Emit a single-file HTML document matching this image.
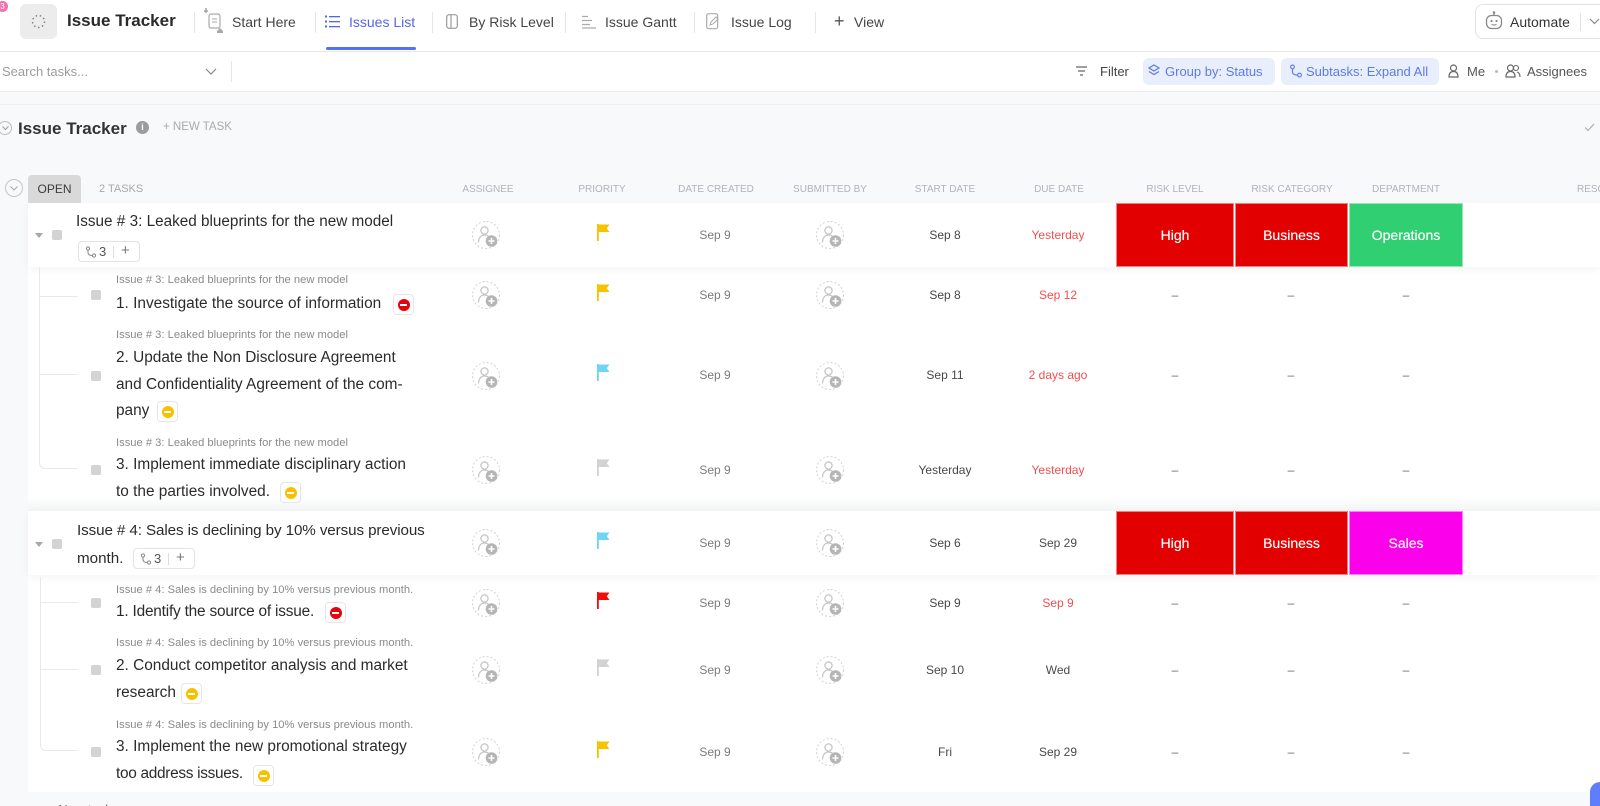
<!DOCTYPE html>
<html><head><meta charset="utf-8">
<style>
*{margin:0;padding:0;box-sizing:border-box}
html,body{width:1600px;height:806px;overflow:hidden;background:#f8f9fb;font-family:"Liberation Sans",sans-serif;color:#333;position:relative}
.a{position:absolute;white-space:nowrap}
.c{position:absolute;white-space:nowrap;text-align:center;width:120px;line-height:16px;font-size:12px}
.tab{position:absolute;white-space:nowrap;font-size:14px;line-height:16px;top:14px;color:#454545}
.sep{position:absolute;top:12px;width:1px;height:21px;background:#e6e6e6}
.hd{position:absolute;white-space:nowrap;text-align:center;width:140px;font-size:10px;line-height:12px;top:184px;color:#afb3bb}
.lbl{position:absolute;white-space:nowrap;font-size:11.2px;line-height:13px;color:#8a8a8a;left:116px}
.tt{position:absolute;white-space:nowrap;font-size:15.4px;line-height:26.5px;color:#2b2b2b;left:116px}
.cb{position:absolute;width:10px;height:10px;background:#d3d3d3;border-radius:2px}
.av{position:absolute;width:30px;height:30px}
.fl{position:absolute;width:13px;height:17px}
.dc{color:#7b7b7b}
.sd{color:#474747}
.rd{color:#f24e4e}
.dk{color:#4a4a4a}
.ds{color:#6a6a6a}
.box{position:absolute;color:#fff;font-size:14px;text-align:center;border:1px solid rgba(255,255,255,.5);text-shadow:0 0 0.4px #fff}
.blk{position:absolute;width:21px;height:21px;border:1px solid #e6e6e6;border-radius:4px;background:#fff}
.blk i{position:absolute;left:3.5px;top:3.5px;width:12px;height:12px;border-radius:50%}
.blk i:after{content:"";position:absolute;left:2.5px;top:5px;width:7px;height:2px;background:#fff}
.chip{position:absolute;height:21px;border:1px solid #e3e3e3;border-radius:4px;background:#fff;font-size:13px;color:#555}
.tri{position:absolute;width:0;height:0;border-left:4px solid transparent;border-right:4px solid transparent;border-top:5px solid #a8a8a8}
</style></head><body>
<svg width="0" height="0" style="position:absolute">
<defs>
<symbol id="av" viewBox="0 0 30 30"><circle cx="15" cy="15" r="13.5" fill="none" stroke="#d2d2d2" stroke-width="1" stroke-dasharray="2 2"/><circle cx="13.5" cy="10.5" r="3.6" fill="none" stroke="#c6c6c6" stroke-width="1.3"/><path d="M7.5 22.5c0-5 2.8-7.5 6-7.5 1.8 0 3.2.6 4.2 1.6" fill="none" stroke="#c6c6c6" stroke-width="1.3"/><circle cx="20.5" cy="21" r="5.8" fill="#b5b5b5"/><path d="M20.5 18v6M17.5 21h6" stroke="#fff" stroke-width="1.6"/></symbol>
<symbol id="fl" viewBox="0 0 13 17"><rect x="0" y="0" width="1.8" height="17"/><path d="M1.5 0.5H12.5L9.8 4.2 12.5 8H1.5Z"/></symbol>
<symbol id="br" viewBox="0 0 12 12"><circle cx="3" cy="2.5" r="1.6" fill="none" stroke="#888" stroke-width="1"/><circle cx="9" cy="9.5" r="1.6" fill="none" stroke="#888" stroke-width="1"/><path d="M3 4.1v2.4c0 2 1.5 3 4.4 3" fill="none" stroke="#888" stroke-width="1"/></symbol>
</defs></svg>

<!-- top bar -->
<div class="a" style="left:0;top:0;width:1600px;height:52px;background:#fff;border-bottom:1px solid #e8e8e8"></div>
<div class="a" style="left:0;top:52px;width:1600px;height:40px;background:#fff;border-bottom:1px solid #ebebeb"></div>
<div class="a" style="left:-3px;top:1px;width:11px;height:11px;border-radius:50%;background:#f472a8;color:#fff;font-size:8px;line-height:11px;text-align:center">3</div>
<div class="a" style="left:20px;top:4px;width:37px;height:35px;background:#ececec;border-radius:6px"></div>
<svg class="a" style="left:31px;top:14px" width="15" height="15" viewBox="0 0 15 15"><circle cx="7.5" cy="7.5" r="6" fill="none" stroke="#777" stroke-width="1.4" stroke-dasharray="1.4 2.8"/></svg>
<div class="a" style="left:67px;top:11px;font-size:17px;font-weight:bold;line-height:20px;color:#2a2a2a">Issue Tracker</div>
<div class="sep" style="left:194px"></div>
<svg class="a" style="left:203px;top:7px" width="22" height="26" viewBox="0 0 22 26"><path d="M3 1v5M1 4h4" stroke="#999" stroke-width="1.3"/><rect x="6" y="7" width="11" height="14" rx="2" fill="none" stroke="#aaa" stroke-width="1.2"/><path d="M9 12h5M9 15h5" stroke="#aaa" stroke-width="1"/><path d="M14 24l3-3 3 3v2h-6z" fill="#aaa"/></svg>
<div class="tab" style="left:232px">Start Here</div>
<div class="sep" style="left:315px"></div>
<svg class="a" style="left:325px;top:15px" width="15" height="13" viewBox="0 0 15 13"><g fill="#5466e6"><rect x="0" y="0.5" width="2" height="2"/><rect x="0" y="5.5" width="2" height="2"/><rect x="0" y="10.5" width="2" height="2"/><rect x="4" y="1" width="11" height="1.3"/><rect x="4" y="6" width="11" height="1.3"/><rect x="4" y="11" width="11" height="1.3"/></g></svg>
<div class="tab" style="left:349px;color:#5466e6">Issues List</div>
<div class="a" style="left:326px;top:47px;width:90px;height:3px;background:#5470f4;border-radius:2px"></div>
<div class="sep" style="left:432px"></div>
<svg class="a" style="left:446px;top:14px" width="12" height="15" viewBox="0 0 12 15"><rect x="0.7" y="0.7" width="10.6" height="13.6" rx="2.5" fill="none" stroke="#999" stroke-width="1.2"/><path d="M5 1v13" stroke="#999" stroke-width="1.2"/></svg>
<div class="tab" style="left:469px">By Risk Level</div>
<div class="sep" style="left:565px"></div>
<svg class="a" style="left:582px;top:15px" width="14" height="14" viewBox="0 0 14 14"><path d="M0 1.5h6M0 5.5h10M0 9.5h8M0 13h14" stroke="#aaa" stroke-width="1.2"/></svg>
<div class="tab" style="left:605px">Issue Gantt</div>
<div class="sep" style="left:694px"></div>
<svg class="a" style="left:706px;top:13px" width="15" height="17" viewBox="0 0 15 17"><rect x="0.7" y="0.7" width="11" height="15" rx="2" fill="none" stroke="#aaa" stroke-width="1.2"/><path d="M4 12l1-3 5-5 2 2-5 5z" fill="none" stroke="#aaa" stroke-width="1"/></svg>
<div class="tab" style="left:731px">Issue Log</div>
<div class="sep" style="left:815px"></div>
<div class="a" style="left:834px;top:11px;font-size:18px;line-height:20px;color:#555">+</div>
<div class="tab" style="left:854px">View</div>
<div class="a" style="left:1475px;top:4px;width:140px;height:35px;border:1px solid #e3e3e3;border-radius:8px;background:#fff"></div>
<svg class="a" style="left:1485px;top:11px" width="18" height="19" viewBox="0 0 18 19"><path d="M9 1v3" stroke="#888" stroke-width="1.3"/><circle cx="9" cy="1.5" r="1.3" fill="#888"/><rect x="1.5" y="4.5" width="15" height="13" rx="5" fill="none" stroke="#888" stroke-width="1.3"/><circle cx="6.5" cy="10" r="1.1" fill="#888"/><circle cx="11.5" cy="10" r="1.1" fill="#888"/><path d="M6.5 13.3q2.5 1.6 5 0" fill="none" stroke="#888" stroke-width="1.1"/></svg>
<div class="tab" style="left:1510px;color:#333">Automate</div>
<div class="a" style="left:1580px;top:13px;width:1px;height:18px;background:#e3e3e3"></div>
<svg class="a" style="left:1589px;top:18px" width="11" height="7" viewBox="0 0 11 7"><path d="M1 1l4.5 4.5L10 1" fill="none" stroke="#888" stroke-width="1.2"/></svg>

<!-- second bar -->
<div class="a" style="left:2px;top:64px;font-size:13px;line-height:15px;color:#9c9c9c">Search tasks...</div>
<svg class="a" style="left:205px;top:68px" width="12" height="7" viewBox="0 0 12 7"><path d="M1 1l5 5 5-5" fill="none" stroke="#888" stroke-width="1.2"/></svg>
<div class="a" style="left:231px;top:61px;width:1px;height:21px;background:#e6e6e6"></div>
<svg class="a" style="left:1076px;top:66px" width="11" height="10" viewBox="0 0 11 10"><path d="M0 1h11M2 5h7M4 9h3" stroke="#666" stroke-width="1.2"/></svg>
<div class="a" style="left:1100px;top:64px;font-size:13px;line-height:15px;color:#444">Filter</div>
<div class="a" style="left:1143px;top:58px;width:132px;height:27px;background:#e9eefc;border-radius:6px"></div>
<svg class="a" style="left:1148px;top:64px" width="12" height="14" viewBox="0 0 12 14"><path d="M6 1l5 3-5 3-5-3z M1 7.5l5 3 5-3" fill="none" stroke="#5d7be5" stroke-width="1.2"/></svg>
<div class="a" style="left:1165px;top:64px;font-size:13px;line-height:15px;color:#5d7be5">Group by: Status</div>
<div class="a" style="left:1281px;top:58px;width:158px;height:27px;background:#e9eefc;border-radius:6px"></div>
<svg class="a" style="left:1289px;top:64px" width="14" height="14" viewBox="0 0 12 12"><circle cx="3" cy="2.5" r="1.6" fill="none" stroke="#5d7be5" stroke-width="1"/><circle cx="9" cy="9.5" r="1.6" fill="none" stroke="#5d7be5" stroke-width="1"/><path d="M3 4.1v2.4c0 2 1.5 3 4.4 3" fill="none" stroke="#5d7be5" stroke-width="1"/></svg>
<div class="a" style="left:1306px;top:64px;font-size:13px;line-height:15px;color:#5d7be5">Subtasks: Expand All</div>
<svg class="a" style="left:1448px;top:64px" width="11" height="14" viewBox="0 0 11 14"><circle cx="5.5" cy="4" r="3" fill="none" stroke="#666" stroke-width="1.2"/><path d="M1 13c0-4 2-5.5 4.5-5.5S10 9 10 13z" fill="none" stroke="#666" stroke-width="1.2"/></svg>
<div class="a" style="left:1467px;top:64px;font-size:13px;line-height:15px;color:#555">Me</div>
<div class="a" style="left:1495px;top:70px;width:3px;height:3px;border-radius:50%;background:#bbb"></div>
<svg class="a" style="left:1505px;top:64px" width="16" height="14" viewBox="0 0 16 14"><circle cx="5.5" cy="4" r="3" fill="none" stroke="#666" stroke-width="1.2"/><path d="M1 13c0-4 2-5.5 4.5-5.5S10 9 10 13z" fill="none" stroke="#666" stroke-width="1.2"/><circle cx="11" cy="4" r="2.5" fill="none" stroke="#666" stroke-width="1.1"/><path d="M12 8c2 .5 3 2 3 5" fill="none" stroke="#666" stroke-width="1.1"/></svg>
<div class="a" style="left:1527px;top:64px;font-size:13px;line-height:15px;color:#555">Assignees</div>

<!-- section header -->
<div class="a" style="left:0;top:104px;width:1600px;height:1px;background:#eef0f3"></div>
<div class="a" style="left:-2px;top:121px;width:14px;height:14px;border:1px solid #bdbdbd;border-radius:50%"></div>
<svg class="a" style="left:2px;top:126px" width="7" height="5" viewBox="0 0 7 5"><path d="M.5.5l3 3 3-3" fill="none" stroke="#999" stroke-width="1"/></svg>
<div class="a" style="left:18px;top:118px;font-size:17px;font-weight:bold;line-height:21px;color:#333">Issue Tracker</div>
<div class="a" style="left:136px;top:121px;width:13px;height:13px;border-radius:50%;background:#9c9c9c;color:#fff;font-size:9px;font-weight:bold;line-height:13px;text-align:center">i</div>
<div class="a" style="left:163px;top:121px;font-size:11.5px;line-height:13px;color:#aaa">+ NEW TASK</div>
<svg class="a" style="left:1584px;top:123px" width="11" height="9" viewBox="0 0 11 9"><path d="M1 4.5l3 3L10 1" fill="none" stroke="#aaa" stroke-width="1.1"/></svg>

<!-- group header -->
<div class="a" style="left:5px;top:179px;width:18px;height:18px;border:1px solid #c6c6c6;border-radius:50%"></div>
<svg class="a" style="left:10px;top:186px" width="8" height="5" viewBox="0 0 8 5"><path d="M.5.5l3.5 3.5 3.5-3.5" fill="none" stroke="#aaa" stroke-width="1"/></svg>
<div class="a" style="left:28px;top:175px;width:53px;height:28px;background:#d9d9d9;border-radius:4px 4px 0 0;font-size:12px;line-height:28px;text-align:center;color:#3a3a3a">OPEN</div>
<div class="a" style="left:99px;top:183px;font-size:11px;line-height:12px;color:#a9a9a9">2 TASKS</div>
<div class="hd" style="left:418px">ASSIGNEE</div>
<div class="hd" style="left:532px">PRIORITY</div>
<div class="hd" style="left:646px">DATE CREATED</div>
<div class="hd" style="left:760px">SUBMITTED BY</div>
<div class="hd" style="left:875px">START DATE</div>
<div class="hd" style="left:989px">DUE DATE</div>
<div class="hd" style="left:1105px">RISK LEVEL</div>
<div class="hd" style="left:1222px">RISK CATEGORY</div>
<div class="hd" style="left:1336px">DEPARTMENT</div>
<div class="hd" style="left:1577px;width:auto;text-align:left">RESOLUTION</div>

<!-- table body -->
<div class="a" style="left:28px;top:203px;width:1572px;height:589px;background:#fff"></div>
<div class="a" style="left:28px;top:203px;width:1572px;height:64px;background:#fff;box-shadow:0 3px 8px rgba(0,0,0,.045)"></div>
<div class="a" style="left:28px;top:497px;width:1572px;height:14px;background:linear-gradient(#fff,#f3f4f5)"></div>
<div class="a" style="left:28px;top:511px;width:1572px;height:64px;background:#fff;box-shadow:0 3px 8px rgba(0,0,0,.045)"></div>

<!-- tree lines group 1 -->
<div class="a" style="left:39px;top:267px;width:1px;height:195px;background:#e7e9ed"></div>
<div class="a" style="left:39px;top:296px;width:39px;height:1px;background:#e7e9ed"></div>
<div class="a" style="left:39px;top:374px;width:39px;height:1px;background:#e7e9ed"></div>
<div class="a" style="left:39px;top:455px;width:39px;height:14px;border-left:1px solid #e7e9ed;border-bottom:1px solid #e7e9ed;border-bottom-left-radius:6px"></div>
<!-- tree lines group 2 -->
<div class="a" style="left:40px;top:577px;width:1px;height:165px;background:#e7e9ed"></div>
<div class="a" style="left:40px;top:602px;width:38px;height:1px;background:#e7e9ed"></div>
<div class="a" style="left:40px;top:669px;width:38px;height:1px;background:#e7e9ed"></div>
<div class="a" style="left:40px;top:737px;width:38px;height:14px;border-left:1px solid #e7e9ed;border-bottom:1px solid #e7e9ed;border-bottom-left-radius:6px"></div>

<!-- Row A -->
<div class="tri" style="left:35px;top:233px"></div>
<div class="cb" style="left:52px;top:230px"></div>
<div class="a" style="left:76px;top:213px;font-size:15.3px;line-height:18px;color:#2b2b2b">Issue # 3: Leaked blueprints for the new model</div>
<div class="chip" style="left:78px;top:241px;width:62px">
  <svg class="a" style="left:6px;top:4px" width="12" height="12"><use href="#br"/></svg>
  <span class="a" style="left:20px;top:2px;line-height:15px">3</span>
  <span class="a" style="left:34px;top:4px;width:1px;height:12px;background:#ddd"></span>
  <span class="a" style="left:42px;top:1px;line-height:16px;font-size:15px;color:#777">+</span>
</div>
<svg class="av" style="left:471px;top:220px"><use href="#av"/></svg>
<svg class="fl" style="left:597px;top:224px;fill:#f7c300"><use href="#fl"/></svg>
<div class="c dc" style="left:655px;top:227px">Sep 9</div>
<svg class="av" style="left:815px;top:220px"><use href="#av"/></svg>
<div class="c sd" style="left:885px;top:227px">Sep 8</div>
<div class="c rd" style="left:998px;top:227px">Yesterday</div>
<div class="box" style="left:1116px;top:203px;width:118px;height:64px;line-height:62px;background:#e30000">High</div>
<div class="box" style="left:1235px;top:203px;width:113px;height:64px;line-height:62px;background:#e30000">Business</div>
<div class="box" style="left:1349px;top:203px;width:114px;height:64px;line-height:62px;background:#30cf72">Operations</div>

<!-- Row B -->
<div class="cb" style="left:91px;top:290px"></div>
<div class="lbl" style="top:274px">Issue # 3: Leaked blueprints for the new model</div>
<div class="tt" style="top:291px">1. Investigate the source of information</div>
<div class="blk" style="left:393px;top:294px"><i style="background:#e8000b"></i></div>
<svg class="av" style="left:471px;top:280px"><use href="#av"/></svg>
<svg class="fl" style="left:597px;top:284px;fill:#f7c300"><use href="#fl"/></svg>
<div class="c dc" style="left:655px;top:287px">Sep 9</div>
<svg class="av" style="left:815px;top:280px"><use href="#av"/></svg>
<div class="c sd" style="left:885px;top:287px">Sep 8</div>
<div class="c rd" style="left:998px;top:287px">Sep 12</div>
<div class="c ds" style="left:1115px;top:287px">–</div>
<div class="c ds" style="left:1231px;top:287px">–</div>
<div class="c ds" style="left:1346px;top:287px">–</div>

<!-- Row C -->
<div class="cb" style="left:91px;top:371px"></div>
<div class="lbl" style="top:329px">Issue # 3: Leaked blueprints for the new model</div>
<div class="tt" style="top:345px">2. Update the Non Disclosure Agreement<br>and Confidentiality Agreement of the com-<br>pany</div>
<div class="blk" style="left:157px;top:401px"><i style="background:#f8c100"></i></div>
<svg class="av" style="left:471px;top:361px"><use href="#av"/></svg>
<svg class="fl" style="left:597px;top:364px;fill:#6fd4f6"><use href="#fl"/></svg>
<div class="c dc" style="left:655px;top:367px">Sep 9</div>
<svg class="av" style="left:815px;top:361px"><use href="#av"/></svg>
<div class="c sd" style="left:885px;top:367px">Sep 11</div>
<div class="c rd" style="left:998px;top:367px">2 days ago</div>
<div class="c ds" style="left:1115px;top:367px">–</div>
<div class="c ds" style="left:1231px;top:367px">–</div>
<div class="c ds" style="left:1346px;top:367px">–</div>

<!-- Row D -->
<div class="cb" style="left:91px;top:465px"></div>
<div class="lbl" style="top:437px">Issue # 3: Leaked blueprints for the new model</div>
<div class="tt" style="top:452px">3. Implement immediate disciplinary action<br>to the parties involved.</div>
<div class="blk" style="left:280px;top:482px"><i style="background:#f8c100"></i></div>
<svg class="av" style="left:471px;top:455px"><use href="#av"/></svg>
<svg class="fl" style="left:597px;top:459px;fill:#d2d2d2"><use href="#fl"/></svg>
<div class="c dc" style="left:655px;top:462px">Sep 9</div>
<svg class="av" style="left:815px;top:455px"><use href="#av"/></svg>
<div class="c sd" style="left:885px;top:462px">Yesterday</div>
<div class="c rd" style="left:998px;top:462px">Yesterday</div>
<div class="c ds" style="left:1115px;top:462px">–</div>
<div class="c ds" style="left:1231px;top:462px">–</div>
<div class="c ds" style="left:1346px;top:462px">–</div>

<!-- Row E -->
<div class="tri" style="left:35px;top:542px"></div>
<div class="cb" style="left:52px;top:539px"></div>
<div class="a" style="left:77px;top:517px;font-size:15.2px;line-height:27.5px;color:#2b2b2b"><span style="letter-spacing:-0.1px">Issue # 4: Sales is declining by 10% versus previous</span><br>month.</div>
<div class="chip" style="left:133px;top:548px;width:62px">
  <svg class="a" style="left:6px;top:4px" width="12" height="12"><use href="#br"/></svg>
  <span class="a" style="left:20px;top:2px;line-height:15px">3</span>
  <span class="a" style="left:34px;top:4px;width:1px;height:12px;background:#ddd"></span>
  <span class="a" style="left:42px;top:1px;line-height:16px;font-size:15px;color:#777">+</span>
</div>
<svg class="av" style="left:471px;top:528px"><use href="#av"/></svg>
<svg class="fl" style="left:597px;top:532px;fill:#6fd4f6"><use href="#fl"/></svg>
<div class="c dc" style="left:655px;top:535px">Sep 9</div>
<svg class="av" style="left:815px;top:528px"><use href="#av"/></svg>
<div class="c sd" style="left:885px;top:535px">Sep 6</div>
<div class="c dk" style="left:998px;top:535px">Sep 29</div>
<div class="box" style="left:1116px;top:511px;width:118px;height:64px;line-height:62px;background:#e30000">High</div>
<div class="box" style="left:1235px;top:511px;width:113px;height:64px;line-height:62px;background:#e30000">Business</div>
<div class="box" style="left:1349px;top:511px;width:114px;height:64px;line-height:62px;background:#fb00ea">Sales</div>

<!-- Row F -->
<div class="cb" style="left:91px;top:598px"></div>
<div class="lbl" style="top:584px">Issue # 4: Sales is declining by 10% versus previous month.</div>
<div class="tt" style="top:599px;letter-spacing:-0.2px">1. Identify the source of issue.</div>
<div class="blk" style="left:325px;top:602px"><i style="background:#e8000b"></i></div>
<svg class="av" style="left:471px;top:588px"><use href="#av"/></svg>
<svg class="fl" style="left:597px;top:592px;fill:#f20d0d"><use href="#fl"/></svg>
<div class="c dc" style="left:655px;top:595px">Sep 9</div>
<svg class="av" style="left:815px;top:588px"><use href="#av"/></svg>
<div class="c sd" style="left:885px;top:595px">Sep 9</div>
<div class="c rd" style="left:998px;top:595px">Sep 9</div>
<div class="c ds" style="left:1115px;top:595px">–</div>
<div class="c ds" style="left:1231px;top:595px">–</div>
<div class="c ds" style="left:1346px;top:595px">–</div>

<!-- Row G -->
<div class="cb" style="left:91px;top:665px"></div>
<div class="lbl" style="top:637px">Issue # 4: Sales is declining by 10% versus previous month.</div>
<div class="tt" style="top:653px">2. Conduct competitor analysis and market<br>research</div>
<div class="blk" style="left:181px;top:683px"><i style="background:#f8c100"></i></div>
<svg class="av" style="left:471px;top:655px"><use href="#av"/></svg>
<svg class="fl" style="left:597px;top:659px;fill:#d2d2d2"><use href="#fl"/></svg>
<div class="c dc" style="left:655px;top:662px">Sep 9</div>
<svg class="av" style="left:815px;top:655px"><use href="#av"/></svg>
<div class="c sd" style="left:885px;top:662px">Sep 10</div>
<div class="c dk" style="left:998px;top:662px">Wed</div>
<div class="c ds" style="left:1115px;top:662px">–</div>
<div class="c ds" style="left:1231px;top:662px">–</div>
<div class="c ds" style="left:1346px;top:662px">–</div>

<!-- Row H -->
<div class="cb" style="left:91px;top:747px"></div>
<div class="lbl" style="top:719px">Issue # 4: Sales is declining by 10% versus previous month.</div>
<div class="tt" style="top:734px">3. Implement the new promotional strategy<br><span style="letter-spacing:-0.3px">too address issues.</span></div>
<div class="blk" style="left:253px;top:765px"><i style="background:#f8c100"></i></div>
<svg class="av" style="left:471px;top:737px"><use href="#av"/></svg>
<svg class="fl" style="left:597px;top:741px;fill:#f7c300"><use href="#fl"/></svg>
<div class="c dc" style="left:655px;top:744px">Sep 9</div>
<svg class="av" style="left:815px;top:737px"><use href="#av"/></svg>
<div class="c sd" style="left:885px;top:744px">Fri</div>
<div class="c dk" style="left:998px;top:744px">Sep 29</div>
<div class="c ds" style="left:1115px;top:744px">–</div>
<div class="c ds" style="left:1231px;top:744px">–</div>
<div class="c ds" style="left:1346px;top:744px">–</div>

<!-- bottom -->
<div class="a" style="left:47px;top:802px;font-size:13px;line-height:15px;color:#666">+ New task</div>
<div class="a" style="left:1590px;top:782px;width:30px;height:40px;border-radius:10px;background:#5f7dff"></div>
</body></html>
